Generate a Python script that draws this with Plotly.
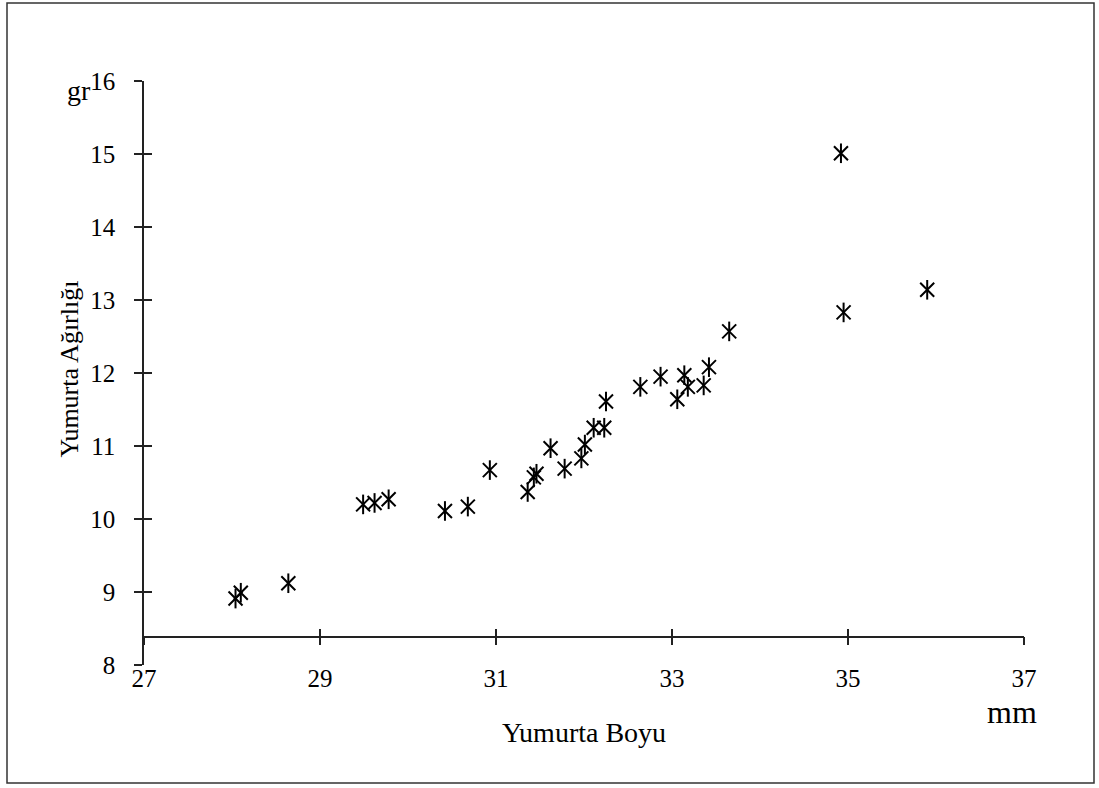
import plotly.graph_objects as go

# Data
boy_mm = [28.04, 28.10, 28.64, 29.49, 29.62, 29.78, 30.42, 30.68, 30.93, 31.36,
          31.43, 31.46, 31.62, 31.78, 31.97, 32.01, 32.11, 32.23, 32.25, 32.64,
          32.87, 33.06, 33.14, 33.18, 33.36, 33.42, 33.65, 34.92, 34.95, 35.90]
agirlik_gr = [8.91, 8.99, 9.12, 10.20, 10.22, 10.27, 10.11, 10.17, 10.67, 10.37,
              10.57, 10.62, 10.97, 10.69, 10.83, 11.02, 11.25, 11.25, 11.61, 11.81,
              11.95, 11.64, 11.97, 11.81, 11.83, 12.08, 12.57, 15.01, 12.83, 13.14]
x_ticks = [27, 29, 31, 33, 35, 37]
y_ticks = [8, 9, 10, 11, 12, 13, 14, 15, 16]
x_axis_cross = 8.39  # y value where the x axis line is drawn

FONT = "Liberation Serif"
W, H = 1099, 788
L, R, T, B = 144, 75, 81, 123

fig = go.Figure()
for sym in ["x-thin-open", "line-ns-open"]:
    fig.add_trace(go.Scatter(
        x=boy_mm, y=agirlik_gr, mode="markers", showlegend=False,
        marker=dict(symbol=sym, size=14, color="black",
                    line=dict(color="black", width=2)),
    ))

axis_common = dict(linecolor="#222", linewidth=1.5, tickcolor="#222",
                   tickwidth=1.5, ticklen=8, showgrid=False, zeroline=False,
                   tickfont=dict(family=FONT, size=25, color="black"))
pos = (x_axis_cross - y_ticks[0]) / (y_ticks[-1] - y_ticks[0])

fig.update_layout(
    width=W, height=H,
    margin=dict(l=L, r=R, t=T, b=B),
    paper_bgcolor="white", plot_bgcolor="white",
    xaxis=dict(range=[x_ticks[0], x_ticks[-1]], tickvals=x_ticks, ticks="outside",
               showline=True, anchor="free", position=pos,
               ticklabelstandoff=12, **axis_common),
    xaxis2=dict(range=[x_ticks[0], x_ticks[-1]], tickvals=x_ticks, ticks="inside",
                showline=False, anchor="free", position=pos, overlaying="x",
                side="bottom", showticklabels=False, **axis_common),
    yaxis=dict(range=[y_ticks[0], y_ticks[-1]], tickvals=y_ticks, ticks="outside",
               showline=True, ticklabelstandoff=14, **axis_common),
    yaxis2=dict(range=[y_ticks[0], y_ticks[-1]], tickvals=y_ticks, ticks="inside",
                showline=False, overlaying="y", anchor="x", side="left",
                showticklabels=False, **axis_common),
)
# invisible trace so the secondary (inner tick) axes are drawn
fig.add_trace(go.Scatter(x=[x_ticks[0]], y=[y_ticks[0]], xaxis="x2", yaxis="y2",
                         mode="markers", marker=dict(opacity=0), showlegend=False,
                         hoverinfo="skip"))

pw, ph = W - L - R, H - T - B
def px(xp):
    return (xp - L) / pw
def py(yp):
    return (H - B - yp) / ph

fig.add_shape(type="rect", xref="paper", yref="paper",
              x0=px(7), x1=px(1094), y0=py(783), y1=py(3),
              line=dict(color="#333", width=1.5))

fig.add_annotation(text="Yumurta Ağırlığı", textangle=-90, xref="paper", yref="paper",
                   x=px(68.5), y=py(369), xanchor="center", yanchor="middle",
                   showarrow=False, font=dict(family=FONT, size=26, color="black"))
fig.add_annotation(text="Yumurta Boyu", xref="paper", yref="paper",
                   x=px(584), y=py(732), xanchor="center", yanchor="middle",
                   showarrow=False, font=dict(family=FONT, size=28, color="black"))
fig.add_annotation(text="gr", xref="paper", yref="paper",
                   x=px(93), y=py(90), xanchor="right", yanchor="middle",
                   showarrow=False, font=dict(family=FONT, size=28, color="black"))
fig.add_annotation(text="mm", xref="paper", yref="paper",
                   x=px(1012), y=py(712), xanchor="center", yanchor="middle",
                   showarrow=False, font=dict(family=FONT, size=32, color="black"))

fig.write_html("out.html", config={"displayModeBar": False},
               post_script="document.body.style.margin='0';")
